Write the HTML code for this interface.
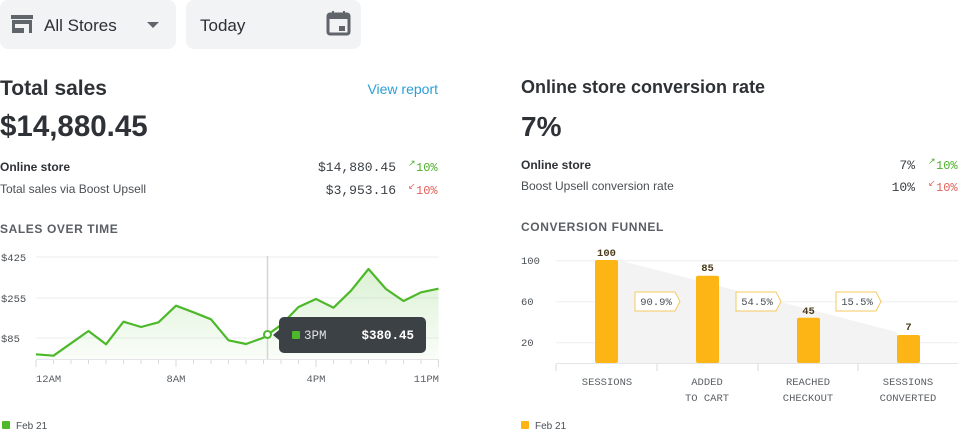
<!DOCTYPE html>
<html><head><meta charset="utf-8"><style>
body{margin:0;background:#fff;width:960px;height:431px;overflow:hidden}
svg{display:block}
.s{font-family:"Liberation Sans",sans-serif}
.m{font-family:"Liberation Mono","DejaVu Sans Mono",monospace}
</style></head><body>
<svg width="960" height="431" viewBox="0 0 960 431">
<rect x="0" y="0" width="176" height="49" rx="8" fill="#f2f3f5"/>
<rect x="186" y="0" width="175" height="49" rx="8" fill="#f2f3f5"/>
<g fill="#5f656b"><rect x="11" y="15" width="22" height="4"/><rect x="12" y="20" width="20" height="4"/><rect x="12" y="24" width="3" height="9"/><rect x="29" y="24" width="3" height="9"/><rect x="12" y="28" width="12" height="5"/></g>
<polygon points="147,22 159,22 153,28" fill="#5f656b"/>
<text x="44" y="31" class="s" font-size="17" fill="#2c3034">All Stores</text>
<text x="200" y="31" class="s" font-size="17" fill="#2c3034">Today</text>
<rect x="328" y="14" width="21" height="20" rx="2" fill="none" stroke="#5f656b" stroke-width="3"/>
<rect x="328" y="14" width="21" height="5" fill="#5f656b"/><rect x="332" y="11" width="2" height="4" fill="#5f656b"/><rect x="343" y="11" width="2" height="4" fill="#5f656b"/>
<rect x="339" y="26" width="6" height="5" fill="#5f656b"/>
<text x="0" y="95" class="s" font-size="21" font-weight="bold" fill="#2e3236">Total sales</text>
<text x="438" y="94" class="s" font-size="14" fill="#2d9fd9" text-anchor="end">View report</text>
<text x="0" y="136" class="s" font-size="29.5" font-weight="bold" fill="#2e3236">$14,880.45</text>
<text x="0" y="171" class="s" font-size="12" font-weight="bold" fill="#2e3236">Online store</text>
<text x="0" y="193" class="s" font-size="12" fill="#4a4f54">Total sales via Boost Upsell</text>
<text x="396" y="171" class="m" font-size="13" fill="#3a3f44" text-anchor="end">$14,880.45</text>
<text x="396" y="194" class="m" font-size="13" fill="#3a3f44" text-anchor="end">$3,953.16</text>
<text x="408" y="166" class="s" font-size="9" fill="#4caf2a">↗</text><text x="416" y="171" class="m" font-size="12" fill="#4caf2a">10%</text>
<text x="408" y="189" class="s" font-size="9" fill="#e0625a">↙</text><text x="416" y="194" class="m" font-size="12" fill="#e0625a">10%</text>
<text x="0" y="233" class="s" font-size="12" font-weight="bold" fill="#5a5f64" letter-spacing="0.6">SALES OVER TIME</text>
<text x="521" y="93" class="s" font-size="18" font-weight="bold" fill="#2e3236">Online store conversion rate</text>
<text x="521" y="136" class="s" font-size="28" font-weight="bold" fill="#2e3236">7%</text>
<text x="521" y="169" class="s" font-size="12" font-weight="bold" fill="#2e3236">Online store</text>
<text x="521" y="190" class="s" font-size="12" fill="#4a4f54">Boost Upsell conversion rate</text>
<text x="915" y="169" class="m" font-size="13" fill="#3a3f44" text-anchor="end">7%</text>
<text x="915" y="191" class="m" font-size="13" fill="#3a3f44" text-anchor="end">10%</text>
<text x="928" y="164" class="s" font-size="9" fill="#4caf2a">↗</text><text x="936" y="169" class="m" font-size="12" fill="#4caf2a">10%</text>
<text x="928" y="186" class="s" font-size="9" fill="#e0625a">↙</text><text x="936" y="191" class="m" font-size="12" fill="#e0625a">10%</text>
<text x="521" y="231" class="s" font-size="12" font-weight="bold" fill="#5a5f64" letter-spacing="0.6">CONVERSION FUNNEL</text>
<defs><linearGradient id="g" x1="0" y1="0" x2="0" y2="1"><stop offset="0" stop-color="#5cc13a" stop-opacity="0.22"/><stop offset="1" stop-color="#5cc13a" stop-opacity="0.03"/></linearGradient></defs>
<g stroke="#eceeef" stroke-width="1"><line x1="36" y1="257" x2="439" y2="257"/><line x1="36" y1="298" x2="439" y2="298"/><line x1="36" y1="338" x2="439" y2="338"/></g>
<g class="m" font-size="10.5" fill="#4a4f54"><text x="1" y="261">$425</text><text x="1" y="302">$255</text><text x="1" y="342">$85</text></g>
<polygon fill="url(#g)" points="36,354.3 53.5,355.7 71,343.3 88.5,331 106,344.3 123.5,321.7 141,327 158.5,322.3 176,305.7 193.5,312.3 211,319.3 228.5,340.3 246,344 263.5,337.7 281,325 298.5,307 316,299 333.5,307.7 351,290.7 368.5,269 386,289 403.5,301 421,292.3 438.5,288.7 438.5,359 36,359"/>
<polyline fill="none" stroke="#4cb82a" stroke-width="2.2" stroke-linejoin="round" points="36,354.3 53.5,355.7 71,343.3 88.5,331 106,344.3 123.5,321.7 141,327 158.5,322.3 176,305.7 193.5,312.3 211,319.3 228.5,340.3 246,344 263.5,337.7 281,325 298.5,307 316,299 333.5,307.7 351,290.7 368.5,269 386,289 403.5,301 421,292.3 438.5,288.7"/>
<line x1="267.5" y1="256" x2="267.5" y2="359" stroke="#d3d5d7" stroke-width="1.5"/>
<line x1="36" y1="359.5" x2="439" y2="359.5" stroke="#e3e5e7"/>
<g stroke="#d8dadc"><path d="M36,360v7M53.5,360v4M71,360v4M88.5,360v4M106,360v4M123.5,360v4M141,360v4M158.5,360v4M176,360v7M193.5,360v4M211,360v4M228.5,360v4M246,360v4M263.5,360v4M281,360v4M298.5,360v4M316,360v7M333.5,360v4M351,360v4M368.5,360v4M386,360v4M403.5,360v4M421,360v4M438.5,360v7"/></g>
<g class="m" font-size="10.5" fill="#5a5f64"><text x="36" y="382">12AM</text><text x="176" y="382" text-anchor="middle">8AM</text><text x="316" y="382" text-anchor="middle">4PM</text><text x="439" y="382" text-anchor="end">11PM</text></g>
<circle cx="267.5" cy="334.5" r="3.5" fill="#fff" stroke="#4cb82a" stroke-width="2"/>
<rect x="279" y="317" width="147" height="36" rx="5" fill="#3c4145"/>
<polygon points="279,330 273,335 279,340" fill="#3c4145"/>
<rect x="292" y="331" width="8" height="8" rx="1" fill="#4cb82a"/>
<text x="304" y="339" class="m" font-size="12.5" fill="#e0e2e4">3PM</text>
<text x="414" y="339" class="m" font-size="12.5" font-weight="bold" fill="#fff" text-anchor="end">$380.45</text>
<rect x="2" y="421" width="8" height="8" rx="1" fill="#4cb82a"/>
<text x="16" y="429" class="s" font-size="10" fill="#4a4f54">Feb 21</text>
<g stroke="#eceeef"><line x1="556" y1="260.7" x2="958" y2="260.7"/><line x1="556" y1="301.7" x2="958" y2="301.7"/><line x1="556" y1="342.7" x2="958" y2="342.7"/></g>
<g class="m" font-size="10.5" fill="#4a4f54"><text x="521" y="264">100</text><text x="521" y="305">60</text><text x="521" y="346">20</text></g>
<polygon points="618,260 897,332 897,363 618,363" fill="#f3f3f3"/>
<g fill="#fdb515"><rect x="595" y="260" width="23" height="103" rx="2"/><rect x="696" y="275.7" width="23" height="87.3" rx="2"/><rect x="797" y="317.7" width="23" height="45.3" rx="2"/><rect x="897" y="335" width="23" height="28" rx="2"/></g>
<g class="m" font-size="10.5" font-weight="bold" fill="#4a3a1a" text-anchor="middle"><text x="606.5" y="256">100</text><text x="707.5" y="271">85</text><text x="808.5" y="314">45</text><text x="908.5" y="330">7</text></g>
<g fill="#fff" stroke="#f4c860" stroke-width="1"><polygon points="635,292 675,292 680,301.5 675,311 635,311"/><polygon points="736,292 776,292 781,301.5 776,311 736,311"/><polygon points="836,292 876,292 881,301.5 876,311 836,311"/></g>
<g class="m" font-size="10.5" fill="#4a4f54" text-anchor="middle"><text x="656" y="305">90.9%</text><text x="757" y="305">54.5%</text><text x="857" y="305">15.5%</text></g>
<line x1="556" y1="363.5" x2="958" y2="363.5" stroke="#e3e5e7"/>
<g stroke="#d8dadc"><path d="M556,364v7M657,364v7M758,364v7M858,364v7"/></g>
<g class="m" font-size="10.5" fill="#5a5f64" text-anchor="middle"><text x="607" y="385">SESSIONS</text><text x="707" y="385">ADDED</text><text x="707" y="401">TO CART</text><text x="808" y="385">REACHED</text><text x="808" y="401">CHECKOUT</text><text x="908" y="385">SESSIONS</text><text x="908" y="401">CONVERTED</text></g>
<rect x="521" y="421" width="8" height="8" rx="1" fill="#fdb515"/>
<text x="535" y="429" class="s" font-size="10" fill="#4a4f54">Feb 21</text>
</svg>
</body></html>
